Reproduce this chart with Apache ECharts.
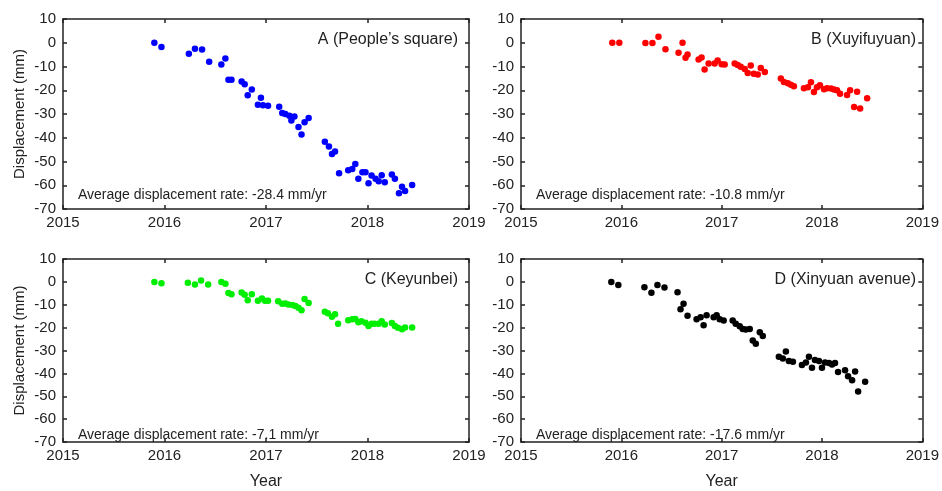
<!DOCTYPE html>
<html>
<head>
<meta charset="utf-8">
<script src="https://cdn.jsdelivr.net/npm/echarts@6/dist/echarts.min.js"></script>
<style>html,body{margin:0;padding:0;background:#fff}#c{width:942px;height:491px}</style>
</head>
<body>
<div id="c"></div>
<script>
const xTicks = [2015, 2016, 2017, 2018, 2019];
const yTicks = [10, 0, -10, -20, -30, -40, -50, -60, -70];

const aYears = [2015.90,2015.97,2016.24,2016.30,2016.37,2016.44,2016.56,2016.60,2016.63,2016.66,2016.76,2016.79,2016.86,2016.82,2016.95,2016.92,2016.97,2017.02,2017.13,2017.16,2017.19,2017.23,2017.25,2017.28,2017.32,2017.35,2017.38,2017.42,2017.58,2017.62,2017.65,2017.68,2017.72,2017.81,2017.85,2017.88,2017.91,2017.95,2017.98,2018.01,2018.04,2018.08,2018.11,2018.14,2018.17,2018.24,2018.27,2018.31,2018.34,2018.37,2018.44];
const aDisp  = [0,-1.8,-4.6,-2.5,-2.8,-8.0,-9.2,-6.6,-15.6,-15.6,-16.3,-17.5,-19.7,-22.1,-23.2,-26.1,-26.3,-26.5,-26.9,-29.6,-30.0,-30.7,-32.7,-31.0,-35.5,-38.6,-33.5,-31.7,-41.7,-43.7,-46.8,-45.8,-54.9,-53.7,-53.2,-51.0,-57.3,-54.5,-54.5,-59.2,-55.9,-57.3,-58.3,-55.8,-58.7,-55.5,-57.3,-63.4,-60.6,-62.4,-59.9];

const bYears = [2015.91,2015.98,2016.24,2016.31,2016.37,2016.44,2016.57,2016.61,2016.64,2016.66,2016.77,2016.80,2016.83,2016.87,2016.93,2016.96,2017.00,2017.03,2017.13,2017.16,2017.19,2017.23,2017.26,2017.29,2017.32,2017.36,2017.39,2017.43,2017.59,2017.62,2017.66,2017.69,2017.72,2017.82,2017.86,2017.89,2017.92,2017.95,2017.98,2018.02,2018.05,2018.09,2018.12,2018.15,2018.18,2018.25,2018.28,2018.32,2018.35,2018.38,2018.45];
const bDisp  = [0,0,-0.1,-0.1,2.5,-2.7,-4.2,0,-6.3,-4.9,-7.0,-6.2,-11.3,-8.7,-8.7,-7.5,-9.0,-9.2,-8.7,-9.4,-10.1,-11.0,-12.7,-9.6,-13.1,-13.4,-10.6,-12.3,-15.1,-16.5,-17.0,-17.7,-18.3,-19.2,-18.7,-16.6,-20.7,-18.7,-17.9,-19.6,-19.2,-19.3,-19.7,-20.0,-21.5,-22.0,-20.0,-27.0,-20.6,-27.7,-23.4];

const cYears = [2015.90,2015.97,2016.23,2016.30,2016.36,2016.43,2016.56,2016.60,2016.63,2016.66,2016.76,2016.79,2016.82,2016.86,2016.92,2016.96,2016.99,2017.02,2017.12,2017.16,2017.19,2017.22,2017.26,2017.29,2017.32,2017.35,2017.38,2017.42,2017.58,2017.61,2017.65,2017.68,2017.71,2017.81,2017.85,2017.88,2017.91,2017.94,2017.98,2018.01,2018.04,2018.07,2018.11,2018.14,2018.17,2018.24,2018.27,2018.30,2018.34,2018.37,2018.44];
const cDisp  = [0,-0.6,-0.4,-1.1,0.6,-1.1,0,-0.8,-4.9,-5.4,-4.6,-5.6,-8.0,-5.4,-8.2,-7.3,-8.2,-8.2,-8.5,-9.6,-9.4,-9.9,-10.1,-10.6,-11.3,-12.4,-7.5,-9.2,-13.1,-13.7,-15.2,-14.1,-18.3,-16.8,-16.3,-16.2,-17.6,-17.2,-17.9,-19.3,-18.3,-18.3,-18.3,-17.2,-18.6,-18.0,-19.3,-20.0,-20.7,-19.9,-19.9];

const dYears = [2015.90,2015.97,2016.23,2016.30,2016.36,2016.43,2016.56,2016.59,2016.62,2016.66,2016.75,2016.79,2016.82,2016.85,2016.92,2016.95,2016.98,2017.02,2017.11,2017.14,2017.18,2017.21,2017.24,2017.28,2017.31,2017.34,2017.38,2017.41,2017.57,2017.61,2017.64,2017.67,2017.71,2017.80,2017.84,2017.87,2017.90,2017.93,2017.97,2018.00,2018.03,2018.07,2018.10,2018.13,2018.16,2018.23,2018.26,2018.30,2018.33,2018.36,2018.43];
const dDisp  = [0,-1.4,-2.3,-4.8,-1.4,-2.5,-4.5,-12.0,-9.6,-14.8,-16.3,-15.5,-19.0,-14.6,-15.5,-14.6,-16.3,-16.9,-16.9,-18.3,-19.4,-20.6,-20.8,-20.6,-25.6,-27.0,-22.0,-23.7,-32.7,-33.5,-30.4,-34.6,-34.9,-36.3,-35.2,-32.7,-37.5,-34.2,-34.6,-37.5,-35.2,-35.5,-36.1,-35.5,-39.4,-38.6,-41.3,-43.0,-39.2,-47.9,-43.7];

const panelNames = ['A (People\u2019s square)', 'B (Xuyifuyuan)', 'C (Keyunbei)', 'D (Xinyuan avenue)'];
const rateTexts = ['Average displacement rate: -28.4 mm/yr', 'Average displacement rate: -10.8 mm/yr', 'Average displacement rate: -7.1 mm/yr', 'Average displacement rate: -17.6 mm/yr'];
const colors = ['#0000ff', '#ff0000', '#00ee00', '#000000'];
const seriesX = [aYears, bYears, cYears, dYears];
const seriesY = [aDisp, bDisp, cDisp, dDisp];

const FONT = 'Liberation Sans, Arial, sans-serif';
const grids = [
  {left: 63, top: 19, width: 406, height: 190},
  {left: 521, top: 19, width: 406, height: 190},
  {left: 63, top: 259, width: 406, height: 190},
  {left: 521, top: 259, width: 406, height: 190}
];
const lineStyle = {color: '#222', width: 1.5};
const xAxes = [], yAxes = [], series = [], titles = [];
grids.forEach((g, i) => {
  const bottomRow = i >= 2, leftCol = i % 2 === 0;
  xAxes.push({
    type: 'value', gridIndex: i, position: 'bottom',
    min: xTicks[0], max: xTicks[xTicks.length - 1], interval: 1,
    axisLine: {show: true, onZero: false, lineStyle},
    axisTick: {show: true, inside: true, length: 4, lineStyle},
    axisLabel: {color: '#222', fontFamily: FONT, fontSize: 15, margin: 6, formatter: v => String(v)},
    splitLine: {show: false},
    name: bottomRow ? 'Year' : '', nameLocation: 'middle', nameGap: 32,
    nameTextStyle: {color: '#222', fontFamily: FONT, fontSize: 16}
  });
  xAxes.push({
    type: 'value', gridIndex: i, position: 'top',
    min: xTicks[0], max: xTicks[xTicks.length - 1], interval: 1,
    axisLine: {show: true, onZero: false, lineStyle},
    axisTick: {show: true, inside: true, length: 4, lineStyle},
    axisLabel: {show: false}, splitLine: {show: false}
  });
  yAxes.push({
    type: 'value', gridIndex: i, position: 'left',
    min: yTicks[yTicks.length - 1], max: yTicks[0], interval: 10,
    axisLine: {show: true, onZero: false, lineStyle},
    axisTick: {show: true, inside: true, length: 4, lineStyle},
    axisLabel: {color: '#222', fontFamily: FONT, fontSize: 15, margin: 7},
    splitLine: {show: false},
    name: leftCol ? 'Displacement (mm)' : '', nameLocation: 'middle', nameGap: 36,
    nameTextStyle: {color: '#222', fontFamily: FONT, fontSize: 15}
  });
  yAxes.push({
    type: 'value', gridIndex: i, position: 'right',
    min: yTicks[yTicks.length - 1], max: yTicks[0], interval: 10,
    axisLine: {show: true, onZero: false, lineStyle},
    axisTick: {show: true, inside: true, length: 4, lineStyle},
    axisLabel: {show: false}, splitLine: {show: false}
  });
  series.push({
    type: 'scatter', xAxisIndex: i * 2, yAxisIndex: i * 2,
    symbolSize: 6.5, itemStyle: {color: colors[i], opacity: 1},
    data: seriesX[i].map((x, k) => [x, seriesY[i][k]]),
    silent: true
  });
  titles.push({
    text: panelNames[i], right: 942 - (g.left + g.width) + 6, top: g.top + 8,
    textStyle: {color: '#222', fontFamily: FONT, fontSize: 16, fontWeight: 'normal'}
  });
  titles.push({
    text: rateTexts[i], left: g.left + 10, top: g.top + 164,
    textStyle: {color: '#222', fontFamily: FONT, fontSize: 14, fontWeight: 'normal'}
  });
});

const chart = echarts.init(document.getElementById('c'), null, {renderer: 'canvas'});
chart.setOption({
  animation: false,
  backgroundColor: '#fff',
  title: titles,
  grid: grids,
  xAxis: xAxes,
  yAxis: yAxes,
  series: series
});
</script>
</body>
</html>
